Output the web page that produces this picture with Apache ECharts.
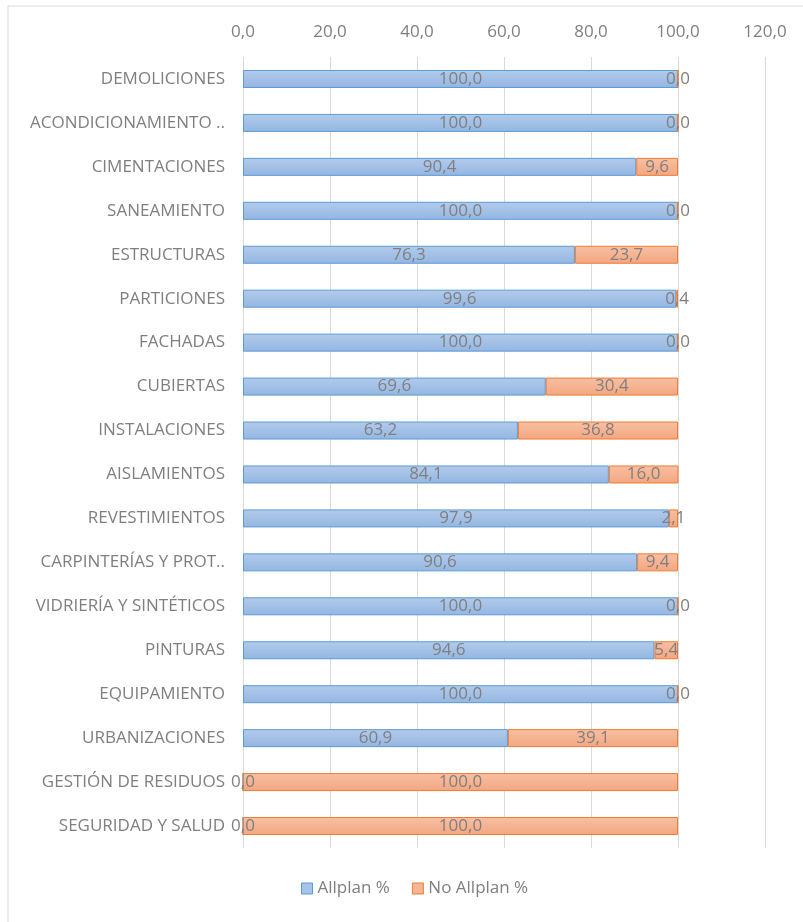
<!DOCTYPE html>
<html>
<head>
<meta charset="utf-8">
<script src="https://cdn.jsdelivr.net/npm/echarts@6/dist/echarts.min.js"></script>
<style>
html,body{margin:0;padding:0;background:#fff;}
#c{width:803px;height:922px;}
</style>
</head>
<body>
<div id="c"></div>
<script>
const categories = ["DEMOLICIONES","ACONDICIONAMIENTO ..","CIMENTACIONES","SANEAMIENTO","ESTRUCTURAS","PARTICIONES","FACHADAS","CUBIERTAS","INSTALACIONES","AISLAMIENTOS","REVESTIMIENTOS","CARPINTERÍAS Y PROT..","VIDRIERÍA Y SINTÉTICOS","PINTURAS","EQUIPAMIENTO","URBANIZACIONES","GESTIÓN DE RESIDUOS","SEGURIDAD Y SALUD"];
const allplan = [100.0,100.0,90.4,100.0,76.3,99.6,100.0,69.6,63.2,84.1,97.9,90.6,100.0,94.6,100.0,60.9,0.0,0.0];
const noAllplan = [0.0,0.0,9.6,0.0,23.7,0.4,0.0,30.4,36.8,16.0,2.1,9.4,0.0,5.4,0.0,39.1,100.0,100.0];
const seriesNames = ["Allplan %","No Allplan %"];

const fmt = v => Number(v).toFixed(1).replace('.', ',');
const FONT = "Open Sans";
const chart = echarts.init(document.getElementById('c'));

const blueFill = new echarts.graphic.LinearGradient(0,0,0,1,[{offset:0,color:'#b2cbeb'},{offset:1,color:'#94b6e2'}]);
const orangeFill = new echarts.graphic.LinearGradient(0,0,0,1,[{offset:0,color:'#f8c0a3'},{offset:1,color:'#f3a680'}]);

chart.setOption({
  backgroundColor:'#fff',
  animation:false,
  textStyle:{fontFamily:FONT},
  graphic:[
    {type:'line',shape:{x1:8,y1:6,x2:803,y2:6},style:{stroke:'#d9d9d9',lineWidth:1},silent:true},
    {type:'line',shape:{x1:8,y1:6,x2:8,y2:922},style:{stroke:'#d9d9d9',lineWidth:1},silent:true}
  ],
  grid:{left:243,right:38,top:57,bottom:74,containLabel:false},
  legend:{
    bottom:20,left:296,
    itemWidth:11,itemHeight:11,itemGap:22,
    icon:'rect',
    textStyle:{color:'#7f7f7f',fontSize:17,fontFamily:FONT},
    data:[
      {name:seriesNames[0],itemStyle:{color:'#a7c3e8',borderColor:'#5b9bd5',borderWidth:1}},
      {name:seriesNames[1],itemStyle:{color:'#f6b595',borderColor:'#ed7d31',borderWidth:1}}
    ]
  },
  xAxis:{
    type:'value',position:'top',min:0,max:120,interval:20,
    axisLine:{show:false},axisTick:{show:false},
    axisLabel:{formatter:fmt,color:'#7f7f7f',fontSize:17,margin:16,fontFamily:FONT},
    splitLine:{lineStyle:{color:'#d9d9d9',width:1}}
  },
  yAxis:{
    type:'category',inverse:true,data:categories,
    axisLine:{show:false},axisTick:{show:false},
    axisLabel:{color:'#7f7f7f',fontSize:17,margin:18,fontFamily:FONT}
  },
  series:[
    {
      name:seriesNames[0],type:'bar',stack:'t',data:allplan,barWidth:18,
      itemStyle:{color:blueFill,borderColor:'#5b9bd5',borderWidth:1},
      label:{show:true,position:'inside',formatter:p=>fmt(p.value),color:'#7f7f7f',fontSize:17,fontFamily:FONT}
    },
    {
      name:seriesNames[1],type:'bar',stack:'t',data:noAllplan,barWidth:18,
      itemStyle:{color:orangeFill,borderColor:'#ed7d31',borderWidth:1},
      label:{show:true,position:'inside',formatter:p=>fmt(p.value),color:'#7f7f7f',fontSize:17,fontFamily:FONT}
    }
  ]
});
</script>
</body>
</html>
